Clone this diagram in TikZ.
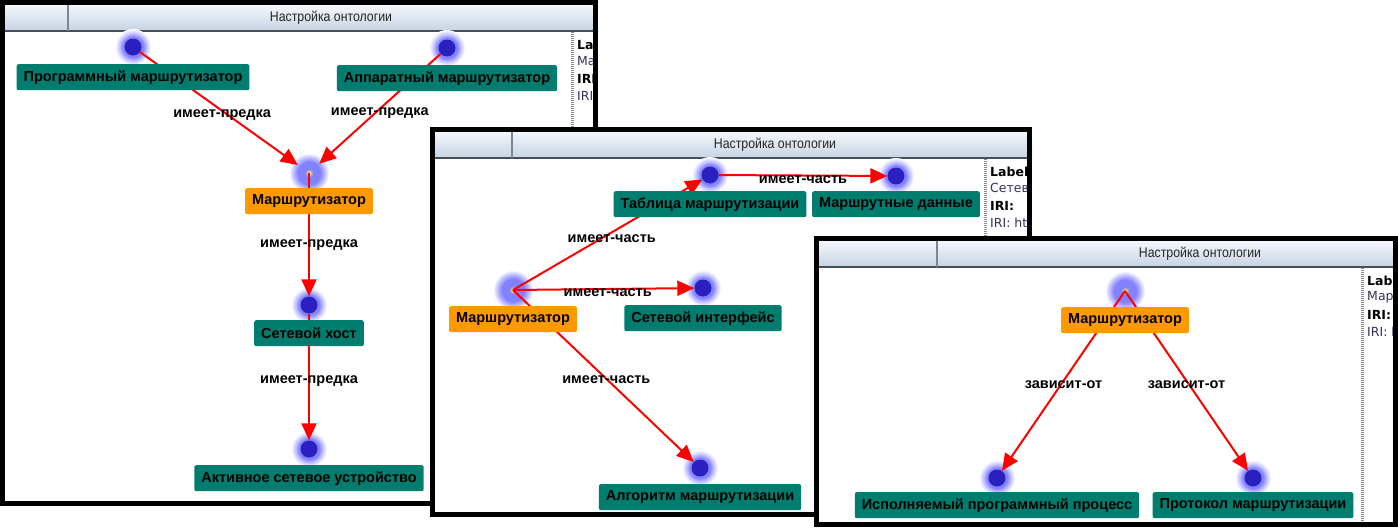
\documentclass[tikz,border=0pt]{standalone}
\usepackage{fontspec}
\setmainfont{Liberation Sans}
\newfontfamily\panelfont{DejaVu Sans}
\newfontfamily\titlefont[FakeStretch=0.88]{Liberation Sans}
\usetikzlibrary{arrows.meta,positioning}

\definecolor{boxteal}{RGB}{0,125,110}
\definecolor{boxorange}{RGB}{255,153,0}
\definecolor{dotblue}{RGB}{42,31,191}
\definecolor{glowblue}{RGB}{130,130,255}
\definecolor{glowpale}{RGB}{195,195,255}
\definecolor{glowyellow}{RGB}{255,235,0}
\definecolor{glowmix}{RGB}{225,205,140}
\definecolor{bartop}{RGB}{244,247,251}
\definecolor{barbottom}{RGB}{198,211,226}
\definecolor{barline}{RGB}{70,80,92}
\definecolor{sepgray}{RGB}{125,135,148}
\definecolor{panelblue}{RGB}{50,50,90}

\pgfdeclareradialshading{dotglow}{\pgfpoint{0bp}{0bp}}{color(0bp)=(glowblue); color(14bp)=(glowblue); color(19bp)=(glowpale); color(25bp)=(white); color(50bp)=(white)}
\pgfdeclareradialshading{selglow}{\pgfpoint{0bp}{0bp}}{color(0bp)=(glowyellow); color(2bp)=(glowmix); color(5bp)=(glowblue); color(14bp)=(glowblue); color(20bp)=(glowpale); color(25bp)=(white); color(50bp)=(white)}

\tikzset{
  titletext/.style={font=\titlefont\fontsize{14}{16}\selectfont, text=black!85},
  paneltext/.style={anchor=west, inner sep=0pt, font=\panelfont\fontsize{12.5}{14}\selectfont},
  panelbold/.style={paneltext, font=\panelfont\bfseries\fontsize{12.5}{14}\selectfont},
  panelsep/.style={draw=black!45, line width=3pt, dash pattern=on 1pt off 1pt}
}

\newcommand\ontwin[9]{%
  \fill[white] (#1,#2) rectangle (#3,#4);
  \shade[top color=bartop,bottom color=barbottom] (#1,#2+5) rectangle (#3,#2+31);
  \draw[barline,line width=2pt] (#1,#2+31) -- (#3,#2+31);
  \draw[sepgray,line width=1.5pt] (#5,#2+5) -- (#5,#2+31);
  \node[titletext] at (#6,#2+18) {Настройка онтологии};
  \draw[panelsep] (#7,#2+32) -- (#7,#4);
  \begin{scope}
    \clip (#7+2,#2+32) rectangle (#3-3,#4);
    \node[panelbold] at (#7+5,#2+45) {Label};
    \node[paneltext,text=panelblue] at (#7+5,#2+61) {#8};
    \node[panelbold] at (#7+5,#2+79) {IRI:};
    \node[paneltext,text=panelblue] at (#7+5,#2+96) {#9};
  \end{scope}
  \draw[line width=5pt] (#1+2.5,#2+2.5) rectangle (#3-2.5,#4-2.5);
}

\begin{document}
\begin{tikzpicture}[x=1pt,y=-1pt,
  dot/.style={circle,inner sep=0pt,minimum size=17pt},
  rootdot/.style={circle,inner sep=0pt,minimum size=27pt},
  tealbox/.style={fill=boxteal,rounded corners=2pt,inner xsep=7pt,inner ysep=0pt,minimum height=26pt,
    font=\bfseries\fontsize{14.5}{17}\selectfont},
  orangebox/.style={tealbox,fill=boxorange},
  edge/.style={draw=red,line width=2pt,-{Triangle[length=17pt,width=15pt]},red},
  lbl/.style={midway,inner sep=0pt,yshift=-4pt,text=black,font=\bfseries\fontsize{14.5}{17}\selectfont}]
\useasboundingbox (0,0) rectangle (1398,530);

\ontwin{0}{0}{598}{506}{68}{331}{572}{Ма}{IRI:}
\node[dot] (p1) at (133,47) {};
\node[dot] (p2) at (447,48) {};
\node[rootdot] (r1) at (309,173) {};
\node[dot] (h1) at (309,305) {};
\node[dot] (a1) at (309,449) {};
\foreach \d in {p1,p2,h1,a1} \shade[shading=dotglow] (\d) circle (18pt);
\shade[shading=selglow] (r1) circle (20pt);
\draw[edge] (p1) -- node[lbl,pos=0.52] {имеет-предка} (r1);
\draw[edge] (p2) -- node[lbl] {имеет-предка} (r1);
\draw[edge] (r1.center) -- node[lbl,pos=0.55] {имеет-предка} (h1);
\draw[edge] (h1) -- node[lbl] {имеет-предка} (a1);
\node[tealbox,below=17pt of p1.center] {Программный маршрутизатор};
\node[tealbox,below=17pt of p2.center] {Аппаратный маршрутизатор};
\node[orangebox,below=15pt of r1.center] {Маршрутизатор};
\node[tealbox,below=15pt of h1.center] {Сетевой хост};
\node[tealbox,below=16pt of a1.center] {Активное сетевое устройство};
\foreach \d in {p1,p2,h1,a1} \fill[dotblue] (\d) circle (8.5pt);

\ontwin{430}{127}{1032}{517}{512}{775}{985}{Сетев}{IRI: htt}
\node[dot] (t2) at (710,175) {};
\node[dot] (m2) at (896,176) {};
\node[rootdot] (r2) at (513,290) {};
\node[dot] (s2) at (703,288) {};
\node[dot] (g2) at (700,468) {};
\foreach \d in {t2,m2,s2,g2} \shade[shading=dotglow] (\d) circle (18pt);
\shade[shading=selglow] (r2) circle (20pt);
\draw[edge] (t2) -- node[lbl] {имеет-часть} (m2);
\draw[edge] (r2.center) -- node[lbl,xshift=4pt] {имеет-часть} (t2);
\draw[edge] (r2.center) -- node[lbl,xshift=4pt] {имеет-часть} (s2);
\draw[edge] (r2.center) -- node[lbl,xshift=3pt] {имеет-часть} (g2);
\node[tealbox,below=16pt of t2.center] {Таблица маршрутизации};
\node[tealbox,below=15pt of m2.center] {Маршрутные данные};
\node[orangebox,below=16pt of r2.center] {Маршрутизатор};
\node[tealbox,below=17pt of s2.center] {Сетевой интерфейс};
\node[tealbox,below=16pt of g2.center] {Алгоритм маршрутизации};
\foreach \d in {t2,m2,s2,g2} \fill[dotblue] (\d) circle (8.5pt);

\ontwin{814}{236}{1398}{527}{937}{1200}{1362}{Мар}{IRI: h}
\node[rootdot] (r3) at (1125,291) {};
\node[dot] (e3) at (997,478) {};
\node[dot] (k3) at (1253,478) {};
\foreach \d in {e3,k3} \shade[shading=dotglow] (\d) circle (18pt);
\shade[shading=selglow] (r3) circle (20pt);
\draw[edge] (r3.center) -- node[lbl] {зависит-от} (e3);
\draw[edge] (r3.center) -- node[lbl] {зависит-от} (k3);
\node[orangebox,below=16pt of r3.center] {Маршрутизатор};
\node[tealbox,below=14pt of e3.center] {Исполняемый программный процесс};
\node[tealbox,below=14pt of k3.center] {Протокол маршрутизации};
\foreach \d in {e3,k3} \fill[dotblue] (\d) circle (8.5pt);
\end{tikzpicture}
\end{document}
